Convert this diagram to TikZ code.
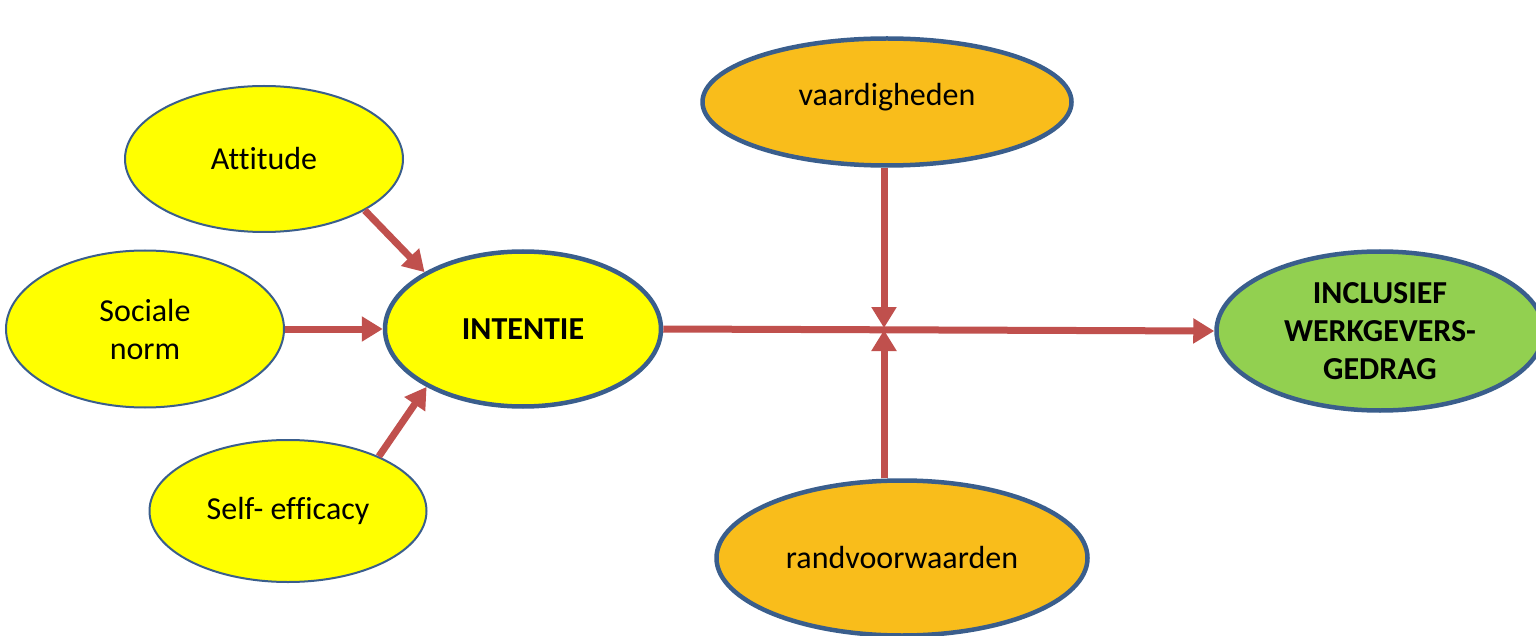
\documentclass[tikz,border=0pt]{standalone}
\usepackage{fontspec}
\setmainfont[Ligatures=NoCommon]{Carlito}
\usetikzlibrary{shapes.geometric,arrows.meta}
\definecolor{bord}{HTML}{3A5E8C}
\definecolor{arr}{HTML}{C0504D}
\definecolor{yel}{HTML}{FFFF00}
\definecolor{ora}{HTML}{F9BD1B}
\definecolor{grn}{HTML}{92D050}
\tikzset{
  ell/.style={ellipse, draw=bord, inner sep=0pt, align=center, font=\fontsize{32}{38}\selectfont},
  thinell/.style={ell, line width=2pt},
  thickell/.style={ell, line width=4.5pt},
  conn/.style={draw=arr, line width=7pt, -{Triangle[width=24pt,length=21pt]}},
}
\begin{document}
\begin{tikzpicture}[x=1pt,y=-1pt]
\useasboundingbox (0,0) rectangle (1536,636);
\clip (0,0) rectangle (1536,636);
\fill[white] (0,0) rectangle (1536,636);
\node[thinell, fill=yel, minimum width=278pt, minimum height=146pt] (att) at (264,159) {Attitude};
\node[thinell, fill=yel, minimum width=278pt, minimum height=157pt] (soc) at (145,329) {Sociale\\norm};
\node[thinell, fill=yel, minimum width=277pt, minimum height=142pt] (self) at (288,511) {Self- efficacy};
\node[thickell, fill=yel, minimum width=276pt, minimum height=155pt, font=\fontsize{32}{38}\selectfont\bfseries] (int) at (523,329) {INTENTIE};
\node[thickell, fill=ora, minimum width=369pt, minimum height=127pt] (vaar) at (887,102) {\raisebox{16pt}{vaardigheden}};
\node[thickell, fill=ora, minimum width=371pt, minimum height=155pt] (rand) at (902,558) {randvoorwaarden};
\node[thickell, fill=grn, minimum width=327pt, minimum height=159pt, font=\fontsize{32}{38}\selectfont\bfseries] (incl) at (1380,331) {INCLUSIEF\\WERKGEVERS-\\GEDRAG};
\coordinate (jn) at (884,329);
\draw[conn] (att.-27.5) -- (int.150);
\draw[conn] (soc.east) -- (int.west);
\draw[conn] (self.31) -- (int.211);
\draw[conn] (int.east) -- (incl.west);
\draw[conn, shorten >=1pt] (vaar.south -| jn) -- (jn);
\draw[conn, shorten >=1pt] (rand.north -| jn) -- (jn);
\end{tikzpicture}
\end{document}
